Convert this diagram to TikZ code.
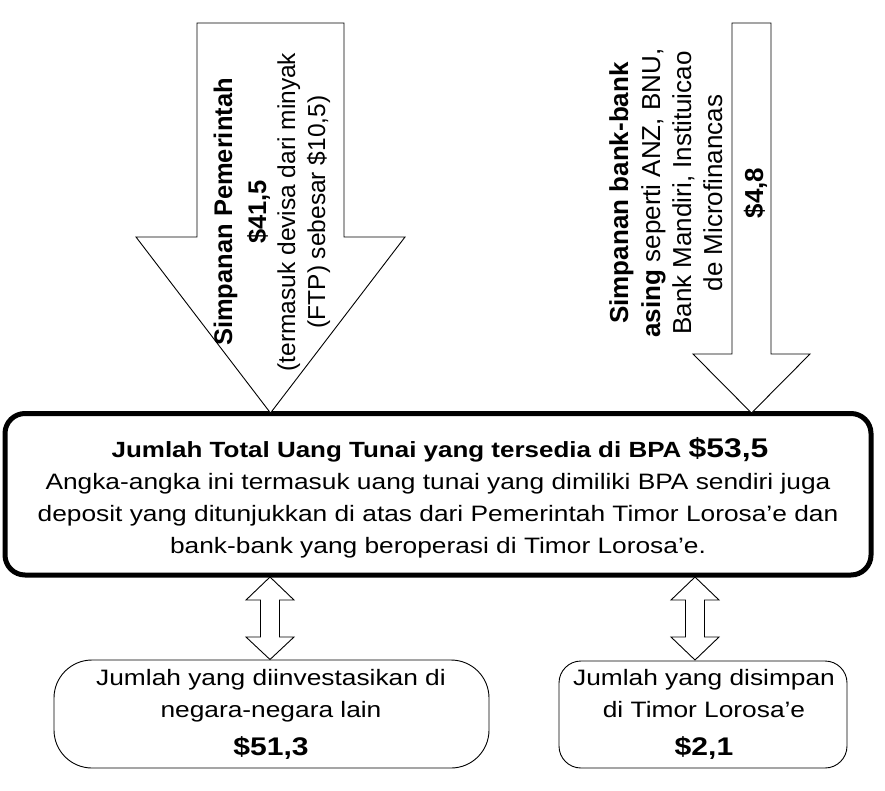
\documentclass[tikz,border=0pt]{standalone}
\usepackage{fontspec}
\setmainfont{Liberation Sans}
\begin{document}
\begin{tikzpicture}[x=1pt,y=-1pt,
  shapeline/.style={draw=black,line width=0.9pt,fill=white,line join=miter},
  hline/.style={anchor=base,inner sep=0pt,xscale=1.18,font=\fontsize{22.3}{26}\selectfont},
  hbold/.style={hline,font=\fontsize{22.3}{26}\selectfont\bfseries},
  vline/.style={anchor=base,inner sep=0pt,rotate=90,font=\fontsize{24.5}{28}\selectfont},
  vbold/.style={vline,font=\fontsize{25.5}{28}\selectfont\bfseries},
  rline/.style={vline,font=\fontsize{26}{28}\selectfont},
  rbold/.style={vline,font=\fontsize{26}{28}\selectfont\bfseries}]
\useasboundingbox (0,0) rectangle (885,790);

% main box
\node[draw=black,line width=5pt,rounded corners=20pt,minimum width=866pt,minimum height=161.5pt,inner sep=0pt] (main) at (438,494.25) {};

% left big arrow
\coordinate (ltip) at (270.5,413);
\draw[shapeline] (197,23) -- (344,23) -- (344,237) -- (405,237) -- (ltip) -- (136,237) -- (197,237) -- cycle;
% right big arrow
\coordinate (rtip) at (751.5,413);
\draw[shapeline] (732,23) -- (771,23) -- (771,354) -- (810,354) -- (rtip) -- (693,354) -- (732,354) -- cycle;

% left arrow text
\node[vbold] (l1) at (232,212) {Simpanan Pemerintah};
\node[vbold] (l2) at (266,212) {\$41,5};
\node[vline] (l3) at (295,212) {(termasuk devisa dari minyak};
\node[vline] (l4) at (325,212) {(FTP) sebesar \$10,5)};

% right arrow text
\node[rbold] (r1) at (628,193) {Simpanan bank-bank};
\node[rline] (r2) at (660,193) {\textbf{asing} seperti ANZ, BNU,};
\node[rline] (r3) at (691,193) {Bank Mandiri, Instituicao};
\node[rline] (r4) at (722,193) {de Microfinancas};
\node[rbold] (r5) at (763,193) {\$4,8};

% main box text
\node[hbold,font=\fontsize{22}{26}\selectfont\bfseries] (m1) at (440,457) {Jumlah Total Uang Tunai yang tersedia di BPA {\fontsize{27}{30}\selectfont\$53,5}};
\node[hline] (m2) at (438,489) {Angka-angka ini termasuk uang tunai yang dimiliki BPA sendiri juga};
\node[hline] (m3) at (438,521) {deposit yang ditunjukkan di atas dari Pemerintah Timor Lorosa’e dan};
\node[hline] (m4) at (438,553) {bank-bank yang beroperasi di Timor Lorosa’e.};

% bottom boxes
\node[draw=black,line width=0.9pt,rounded corners=38pt,minimum width=435pt,minimum height=108pt,inner sep=0pt] (bl) at (271.5,714) {};
\node[draw=black,line width=0.9pt,rounded corners=22pt,minimum width=288pt,minimum height=107pt,inner sep=0pt] (br) at (703,714.5) {};

% double arrows
\draw[shapeline] (270,577) -- (294,600) -- (279.5,600) -- (279.5,637) -- (294,637) -- (270,659.5) -- (246,637) -- (260.5,637) -- (260.5,600) -- (246,600) -- cycle;
\draw[shapeline] (695,577) -- (719,600) -- (704.5,600) -- (704.5,637) -- (719,637) -- (695,660) -- (671,637) -- (685.5,637) -- (685.5,600) -- (671,600) -- cycle;

% bottom texts
\node[hline] (b1) at (271,685) {Jumlah yang diinvestasikan di};
\node[hline] (b2) at (271,717) {negara-negara lain};
\node[hbold,font=\fontsize{25.5}{28}\selectfont\bfseries] (b3) at (271,755) {\$51,3};
\node[hline] (c1) at (704,685) {Jumlah yang disimpan};
\node[hline] (c2) at (704,717) {di Timor Lorosa’e};
\node[hbold,font=\fontsize{25.5}{28}\selectfont\bfseries] (c3) at (704,755) {\$2,1};
\end{tikzpicture}
\end{document}
